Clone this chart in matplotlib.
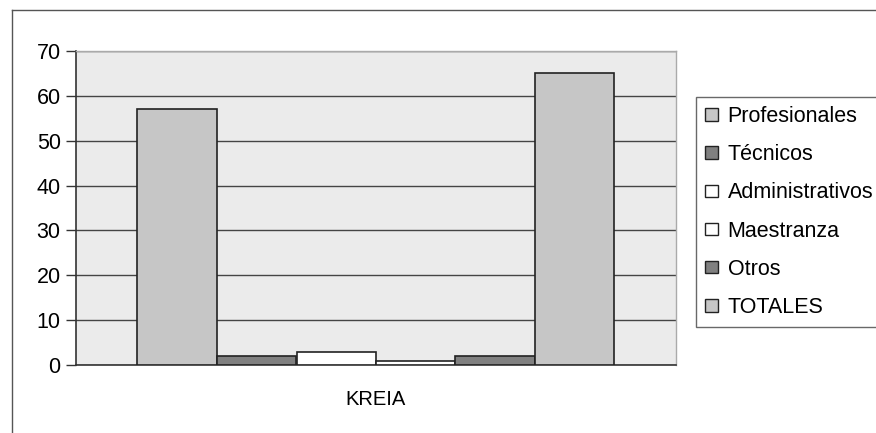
import matplotlib
matplotlib.use("Agg")
import matplotlib.pyplot as plt
from matplotlib.patches import Patch
from matplotlib.lines import Line2D

categories = ["KREIA"]
series = ["Profesionales", "Técnicos", "Administrativos", "Maestranza", "Otros", "TOTALES"]
values = [57, 2, 3, 1, 2, 65]
colors = ["#c6c6c6", "#808080", "#ffffff", "#ffffff", "#808080", "#c6c6c6"]
yticks = [0, 10, 20, 30, 40, 50, 60, 70]

plt.rcParams['font.family'] = ['Liberation Sans', 'DejaVu Sans']

fig = plt.figure(figsize=(8.76, 4.33), dpi=100)
ax = fig.add_axes([76/876, 1-365/433, 600/876, 314/433])
ax.set_facecolor("#ebebeb")

n = len(series)
group_w = 477/600
bw = group_w / n
for i, (s, v, c) in enumerate(zip(series, values, colors)):
    x = -group_w/2 + bw*(i+0.5)
    ax.bar(x, v, width=bw, color=c, edgecolor="#222222", linewidth=1.2, zorder=3, label=s)

ax.set_xlim(-0.5, 0.5)
ax.set_ylim(0, 70)
ax.set_yticks(yticks)
ax.set_xticks([0])
ax.set_xticklabels(categories)
ax.tick_params(axis='x', length=0, pad=18, labelsize=14.5)
ax.tick_params(axis='y', length=7, width=1, color="#333333", labelsize=15.5, pad=4)
ax.yaxis.grid(True, color="#444444", linewidth=1.0, zorder=1)
ax.set_axisbelow(True)
for sp in ["top", "right"]:
    ax.spines[sp].set_color("#aaaaaa")
    ax.spines[sp].set_linewidth(1.0)
ax.spines["left"].set_color("#333333")
ax.spines["bottom"].set_color("#333333")
ax.spines["left"].set_linewidth(1.2)
ax.spines["bottom"].set_linewidth(1.2)

handles = [Patch(facecolor=c, edgecolor="#222222", linewidth=1.0) for c in colors]
leg = fig.legend(handles, series, loc="upper left", bbox_to_anchor=(696/876, 1-97/433),
                 frameon=True, fancybox=False, fontsize=15.5, handlelength=0.6, handleheight=0.5,
                 handletextpad=0.45, labelspacing=0.8, borderpad=0.42, borderaxespad=0)
leg.get_frame().set_edgecolor("#444444")
leg.get_frame().set_linewidth(1.0)

# outer chart frame (top and left edges visible)
fig.add_artist(Line2D([12/876, 1.0], [1-10/433, 1-10/433], color="#555555", linewidth=1.0))
fig.add_artist(Line2D([12/876, 12/876], [0.0, 1-10/433], color="#555555", linewidth=1.0))

fig.savefig("out.png", dpi=100)
